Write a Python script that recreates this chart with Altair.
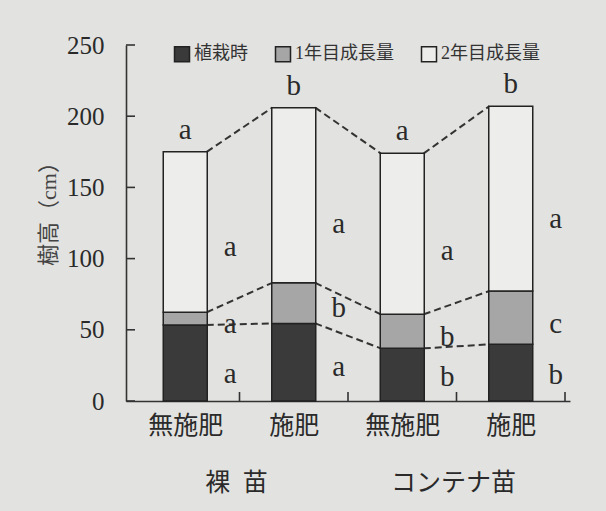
import json
import altair as alt
import pandas as pd

# ---- data ----
categories = ["裸苗-無施肥", "裸苗-施肥", "コンテナ苗-無施肥", "コンテナ苗-施肥"]
x_labels = ["無施肥", "施肥", "無施肥", "施肥"]
groups = ["裸\u2002苗", "コンテナ苗"]
group_members = [[0, 1], [2, 3]]
segments = ["植栽時", "1年目成長量", "2年目成長量"]
planting = [53.4, 54.5, 37.0, 39.8]
growth1 = [8.9, 28.5, 23.9, 37.4]
growth2 = [112.7, 123.0, 113.0, 129.8]
top_letters = ["a", "b", "a", "b"]
side_letters_g2 = ["a", "a", "a", "a"]
side_pos_g2 = [108, 124, 105, 128]
side_letters_g1 = ["a", "b", "b", "c"]
side_pos_g1 = [54, 65, 45, 54]
side_letters_p = ["a", "a", "b", "b"]
side_pos_p = [19, 24, 17, 18]
y_ticks = [0, 50, 100, 150, 200, 250]

# ---- style ----
FONT = "Liberation Serif, Noto Sans CJK JP"
INK = "#2a2a2a"
FILLS = ["#3a3a3a", "#a6a6a6", "#ededeb"]
BG = "#e2e2e0"
W, H = 444, 356
BAR_PX = 44
STEP_PX = W / len(categories)
HW = BAR_PX / STEP_PX / 2.0

# ---- tables ----
levels = [[], [], []]
for i in range(len(categories)):
    l0 = planting[i]
    l1 = l0 + growth1[i]
    l2 = l1 + growth2[i]
    levels[0].append(l0)
    levels[1].append(l1)
    levels[2].append(l2)

bar_rows = []
for i in range(len(categories)):
    starts = [0, levels[0][i], levels[1][i]]
    ends = [levels[0][i], levels[1][i], levels[2][i]]
    for j, s in enumerate(segments):
        bar_rows.append({"idx": i, "segment": s, "start": starts[j], "end": ends[j], "order": j})
bars_df = pd.DataFrame(bar_rows)

dash_rows = []
for lv in levels:
    for i in range(len(categories) - 1):
        dash_rows.append({"x1": i + HW, "x2": i + 1 - HW, "y1": lv[i], "y2": lv[i + 1]})
dash_df = pd.DataFrame(dash_rows)

top_df = pd.DataFrame({"idx": range(4), "v": levels[2], "t": top_letters})
side_df = pd.DataFrame({
    "idx": list(range(4)) * 3,
    "v": side_pos_g2 + side_pos_g1 + side_pos_p,
    "t": side_letters_g2 + side_letters_g1 + side_letters_p,
})
group_df = pd.DataFrame({
    "gx": [sum(m) / len(m) for m in group_members],
    "t": groups,
})
ytick_df = pd.DataFrame({"v": y_ticks})
xtick_df = pd.DataFrame({"b": [i + 0.5 for i in range(len(categories))]})

xscale = alt.Scale(domain=[-0.5, len(categories) - 0.5], nice=False, zero=False)
yscale = alt.Scale(domain=[0, 250], nice=False)

label_expr = json.dumps(x_labels, ensure_ascii=False) + "[datum.value]"

bars = alt.Chart(bars_df).mark_bar(width=BAR_PX, stroke="#222222", strokeWidth=1.5, opacity=1).encode(
    x=alt.X("idx:Q", scale=xscale, axis=alt.Axis(
        values=[0, 1, 2, 3], labelExpr=label_expr, title=None, ticks=False, grid=False,
        domainColor="#333333", domainWidth=1.6, labelFont=FONT, labelFontSize=25,
        labelColor=INK, labelPadding=12, labelFlush=False)),
    y=alt.Y("start:Q", scale=yscale, axis=alt.Axis(
        values=y_ticks, ticks=False, grid=False, domainColor="#333333", domainWidth=1.6,
        labelFont=FONT, labelFontSize=25, labelColor=INK, labelPadding=22, labelFlush=False,
        title="樹高（cm）", titleFont=FONT, titleFontSize=22, titleFontWeight="normal",
        titleColor="#444444", titleAngle=270, titleX=-78, titleY=163,
        titleAlign="center", titleBaseline="middle")),
    y2="end:Q",
    color=alt.Color("segment:N", scale=alt.Scale(domain=segments, range=FILLS), sort=segments,
                    legend=alt.Legend(title=None, orient="none", legendX=47, legendY=0,
                                      direction="horizontal", symbolType="square", symbolSize=225,
                                      symbolStrokeColor="#222222", symbolStrokeWidth=1.5,
                                      labelFont=FONT, labelFontSize=18, labelColor="#333333",
                                      labelOffset=3, columnPadding=24, padding=0, labelLimit=300)),
    order="order:Q",
)

dashes = alt.Chart(dash_df).mark_rule(color="#333333", strokeWidth=2, strokeDash=[7, 4]).encode(
    x="x1:Q", x2="x2:Q", y="y1:Q", y2="y2:Q"
)

yticks = alt.Chart(ytick_df).mark_rule(color="#333333", strokeWidth=1.6).encode(
    y="v:Q", x=alt.value(0), x2=alt.value(9)
)
xticks = alt.Chart(xtick_df).mark_rule(color="#333333", strokeWidth=1.6).encode(
    x="b:Q", y=alt.value(H), y2=alt.value(H - 9)
)

tops = alt.Chart(top_df).mark_text(font=FONT, fontSize=29, color=INK, dy=-22, baseline="middle").encode(
    x="idx:Q", y="v:Q", text="t:N"
)
sides = alt.Chart(side_df).mark_text(font=FONT, fontSize=29, color=INK, dx=45, baseline="middle").encode(
    x="idx:Q", y="v:Q", text="t:N"
)
grp = alt.Chart(group_df).mark_text(font=FONT, fontSize=25, color=INK, baseline="middle", dx=-3).encode(
    x="gx:Q", y=alt.value(H + 82), text="t:N"
)

chart = alt.layer(dashes, bars, yticks, xticks, tops, sides, grp).properties(
    width=W, height=H, background=BG,
    padding={"left": 126, "top": 45, "right": 36, "bottom": 110},
    autosize=alt.AutoSizeParams(type="none"),
).configure_view(stroke=None)

chart.save("out.html", embed_options={"renderer": "svg", "actions": False})
